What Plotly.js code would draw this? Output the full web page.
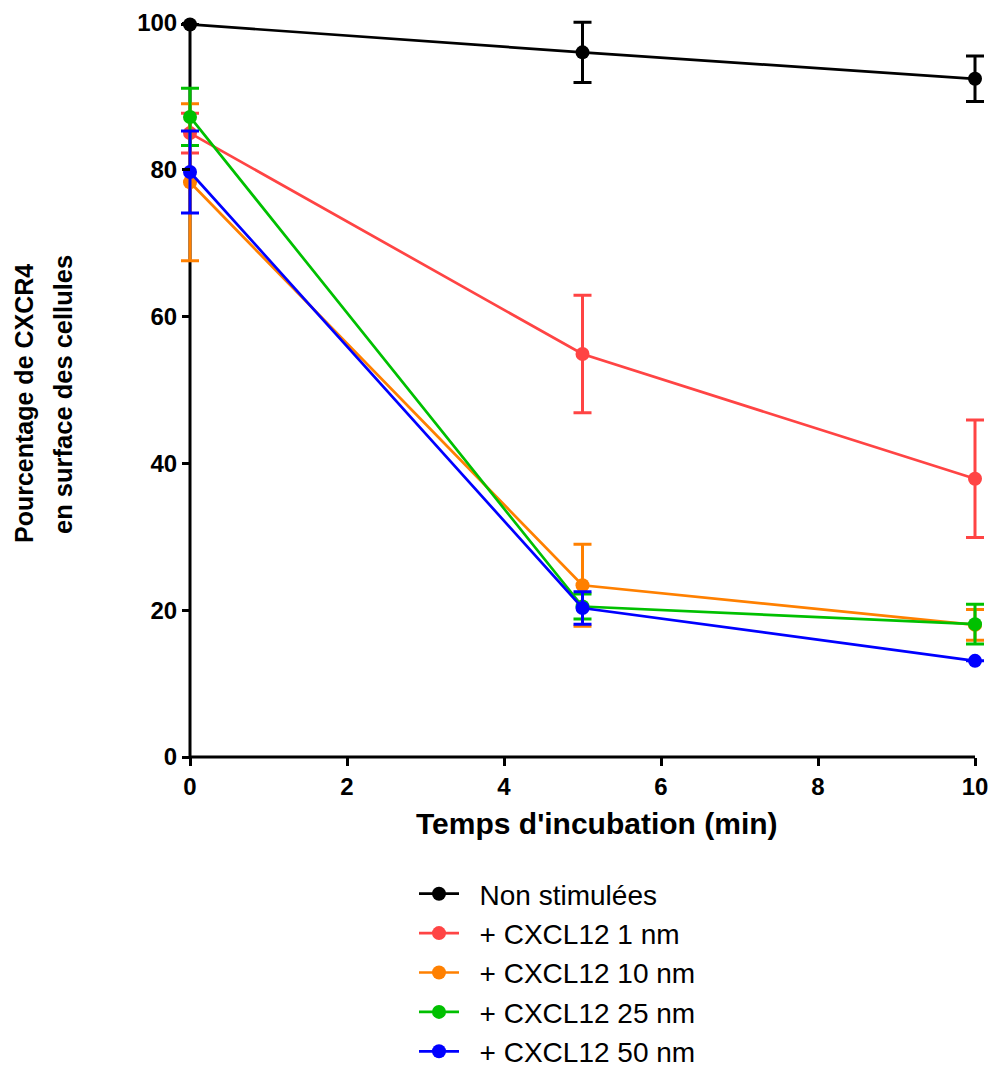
<!DOCTYPE html>
<html>
<head>
<meta charset="utf-8">
<script src="https://cdn.plot.ly/plotly-3.0.1.min.js"></script>
<style>html,body{margin:0;padding:0;background:#fff;}#chart{width:1008px;height:1070px;}</style>
</head>
<body>
<div id="chart"></div>
<script>
const times = [0, 5, 10];
const seriesNames = ["Non stimulées", "+ CXCL12 1 nm", "+ CXCL12 10 nm", "+ CXCL12 25 nm", "+ CXCL12 50 nm"];
const colors = ["#000000", "#ff4444", "#ff8000", "#00c000", "#0000ff"];
const nonStim = [99.8, 96.0, 92.4];
const nonStimErr = [0, 4.1, 3.1];
const cx1 = [85.0, 54.9, 37.9];
const cx1Err = [2.7, 8.0, 8.0];
const cx10 = [78.3, 23.4, 18.0];
const cx10Err = [10.7, 5.6, 2.1];
const cx25 = [87.2, 20.5, 18.1];
const cx25Err = [3.9, 1.7, 2.7];
const cx50 = [79.7, 20.3, 13.1];
const cx50Err = [5.6, 2.2, 0];
const xTicks = [0, 2, 4, 6, 8, 10];
const yTicks = [0, 20, 40, 60, 80, 100];
const xTitle = "Temps d'incubation (min)";
const yTitleLines = ["Pourcentage de CXCR4", "en surface des cellules"];

const values = [nonStim, cx1, cx10, cx25, cx50];
const errs = [nonStimErr, cx1Err, cx10Err, cx25Err, cx50Err];

const W = 1008, H = 1070;
const mL = 170, mR = 14, mT = 3, mB = 298;
const plotW = W - mL - mR, plotH = H - mT - mB;
const xRange = [-0.2548, 10.242];
const yRange = [-2.044, 102.725];
const xPos = (0 - xRange[0]) / (xRange[1] - xRange[0]);
const yPos = (0 - yRange[0]) / (yRange[1] - yRange[0]);
const pxToPaperX = px => (px - mL) / plotW;
const pxToPaperY = py => (H - mB - py) / plotH;

const traces = values.map((v, i) => ({
  x: times, y: v, name: "\u00a0\u00a0" + seriesNames[i], type: 'scatter', mode: 'lines+markers',
  line: {color: colors[i], width: 2.7},
  marker: {color: colors[i], size: 14},
  error_y: {type: 'data', array: errs[i], visible: true, color: colors[i], thickness: 3, width: 9},
  cliponaxis: false
}));

const FONT = 'Liberation Sans, Arial, sans-serif';

const layout = {
  width: W, height: H,
  margin: {l: mL, r: mR, t: mT, b: mB, pad: 0, autoexpand: false},
  paper_bgcolor: '#fff', plot_bgcolor: '#fff',
  font: {family: FONT, color: '#000'},
  showlegend: true,
  legend: {
    xref: 'paper', yref: 'paper',
    x: pxToPaperX(414), xanchor: 'left', y: pxToPaperY(869), yanchor: 'top',
    font: {size: 28, family: FONT, color: '#000'},
    tracegroupgap: 0, itemwidth: 40, bgcolor: 'rgba(0,0,0,0)'
  },
  xaxis: {
    range: xRange, tickvals: xTicks, showgrid: false, zeroline: false,
    showline: false, anchor: 'free', position: yPos,
    ticks: 'outside', ticklen: 8, tickwidth: 3, tickcolor: '#000',
    tickfont: {size: 24, family: FONT, weight: 'bold', color: '#000'}
  },
  yaxis: {
    range: yRange, tickvals: yTicks, showgrid: false, zeroline: false,
    showline: false, anchor: 'free', position: xPos,
    ticks: 'outside', ticklen: 8, tickwidth: 3, tickcolor: '#000',
    tickfont: {size: 24, family: FONT, weight: 'bold', color: '#000'}
  },
  shapes: [
    {type: 'line', xref: 'x', yref: 'y', x0: xTicks[0], x1: xTicks[xTicks.length - 1], y0: 0, y1: 0, line: {color: '#000', width: 3}, layer: 'below'},
    {type: 'line', xref: 'x', yref: 'y', x0: 0, x1: 0, y0: yTicks[0], y1: yTicks[yTicks.length - 1], line: {color: '#000', width: 3}, layer: 'below'}
  ],
  annotations: [
    {text: '<b>' + xTitle + '</b>', xref: 'paper', yref: 'paper', x: pxToPaperX(597), y: pxToPaperY(823), showarrow: false, xanchor: 'center', yanchor: 'middle', font: {size: 30, family: FONT, color: '#000'}},
    {text: '<b>' + yTitleLines[0] + '</b>', xref: 'paper', yref: 'paper', x: pxToPaperX(24), y: pxToPaperY(404), textangle: -90, showarrow: false, xanchor: 'center', yanchor: 'middle', font: {size: 25, family: FONT, color: '#000'}},
    {text: '<b>' + yTitleLines[1] + '</b>', xref: 'paper', yref: 'paper', x: pxToPaperX(63), y: pxToPaperY(395), textangle: -90, showarrow: false, xanchor: 'center', yanchor: 'middle', font: {size: 25.5, family: FONT, color: '#000'}}
  ]
};

Plotly.newPlot('chart', traces, layout, {displayModeBar: false});
</script>
</body>
</html>
